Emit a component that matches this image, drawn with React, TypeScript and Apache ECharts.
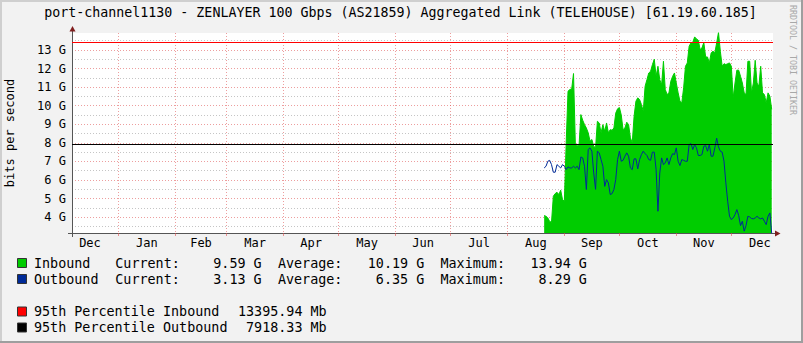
import React, { useEffect, useRef } from "react";
import * as echarts from "echarts";

const TITLE =
  "port-channel1130 - ZENLAYER 100 Gbps (AS21859) Aggregated Link (TELEHOUSE) [61.19.60.185]";
const Y_AXIS_NAME = "bits per second";
const WATERMARK = "RRDTOOL / TOBI OETIKER";

// daily samples, first one on this date (UTC)
const firstSampleDate = "2019-08-21";

// Inbound traffic, Gbit/s
const inbound = [
  4.09, 4.05, 3.96, 3.77, 3.73, 5.13, 5.27, 5.34, 5.22, 5.45, 4.95, 4.86,
  7.99, 10.78, 10.87, 10.9, 11.73, 7.9, 7.85, 7.85, 9.52, 9.22, 8.98, 8.8,
  8.54, 8.09, 8.18, 7.82, 7.73, 9.16, 9.07, 8.54, 8.98, 8.62, 9.07, 8.54,
  8.71, 8.68, 8.8, 9.6, 9.83, 9.9, 9.5, 8.71, 8.8, 9.11, 8.98, 8.27,
  8.0, 9.43, 10.24, 10.42, 10.33, 10.06, 9.7, 11.04, 11.4, 11.76, 11.85, 12.21,
  12.5, 11.58, 12.12, 11.4, 11.13, 12.39, 10.87, 10.6, 10.69, 11.31, 11.58, 11.76,
  11.22, 10.69, 10.24, 10.15, 10.96, 12.12, 12.3, 13.2, 13.38, 13.41, 13.7, 13.59,
  13.52, 13.02, 13.11, 13.4, 12.62, 12.62, 12.3, 12.84, 12.93, 12.84, 13.38, 13.94,
  12.93, 12.12, 12.26, 12.21, 12.26, 12.3, 12.12, 10.42, 11.22, 11.91, 11.91, 11.58,
  11.22, 10.69, 10.6, 12.39, 12.39, 10.69, 11.22, 12.44, 11.22, 11.04, 12.12, 10.69,
  10.6, 10.15, 10.69, 10.51, 9.8,
];

// Outbound traffic, Gbit/s
const outbound = [
  6.65, 6.74, 7.01, 7.06, 6.83, 6.42, 6.42, 6.83, 6.74, 6.65, 6.83, 6.74,
  6.56, 6.71, 6.65, 6.65, 6.74, 6.65, 6.74, 6.56, 7.24, 7.19, 6.74, 5.49,
  7.64, 7.73, 7.55, 6.38, 5.5, 7.55, 7.46, 7.1, 6.74, 5.66, 6.02, 5.84,
  5.22, 5.27, 5.49, 6.02, 7.1, 7.55, 7.01, 7.06, 7.28, 7.46, 7.28, 6.65,
  6.56, 7.14, 7.14, 6.6, 7.1, 7.37, 7.55, 7.42, 7.32, 7.1, 7.06, 7.5,
  7.5, 6.56, 4.32, 6.38, 7.19, 6.83, 6.92, 7.19, 6.83, 7.19, 7.42, 7.37,
  7.73, 7.01, 6.78, 7.1, 7.06, 7.01, 7.01, 7.91, 7.96, 7.64, 7.91, 7.73,
  7.32, 7.32, 7.37, 7.82, 7.85, 7.55, 7.91, 7.28, 7.28, 7.73, 8.25, 7.78,
  7.55, 7.5, 7.01, 5.85, 4.86, 4.05, 3.87, 3.96, 4.14, 4.41, 4.09, 3.55,
  3.78, 3.25, 3.55, 4.05, 4.01, 3.93, 3.91, 3.96, 4.05, 3.96, 3.91, 3.96,
  3.78, 3.6, 4.05, 4.23, 3.13,
];

// 95th percentiles, Gbit/s
const p95Inbound = 13.39594;
const p95Outbound = 7.91833;

// time axis
const axisStart = "2018-12-06T16:48:00Z";
const axisEnd = "2019-12-23T16:48:00Z";
const monthStarts = [
  "2018-12-01", "2019-01-01", "2019-02-01", "2019-03-01", "2019-04-01",
  "2019-05-01", "2019-06-01", "2019-07-01", "2019-08-01", "2019-09-01",
  "2019-10-01", "2019-11-01", "2019-12-01", "2020-01-01",
];
const monthNames = [
  "Dec", "Jan", "Feb", "Mar", "Apr", "May", "Jun", "Jul", "Aug", "Sep", "Oct", "Nov", "Dec",
];

// value axis
const yMin = 3.15;
const yMax = 13.91;
const yLabelValues = [4, 5, 6, 7, 8, 9, 10, 11, 12, 13];
const yGridValues = [
  3.5, 4, 4.5, 5, 5.5, 6, 6.5, 7, 7.5, 8, 8.5, 9, 9.5, 10, 10.5, 11, 11.5,
  12, 12.5, 13, 13.5,
];

// legend
const legendSeriesNames = ["Inbound", "Outbound"];
const legendCurrent = ["9.59 G", "3.13 G"];
const legendAverage = ["10.19 G", "6.35 G"];
const legendMaximum = ["13.94 G", "8.29 G"];
const percentileNames = ["95th Percentile Inbound", "95th Percentile Outbound"];
const percentileValues = ["13395.94 Mb", "7918.33 Mb"];

const GREEN = "#00CC00";
const BLUE = "#002A97";
const FONT = "DejaVu Sans Mono";

export default function App() {
  const ref = useRef<HTMLDivElement>(null);

  useEffect(() => {
    if (!ref.current) return;
    const chart = echarts.init(ref.current, undefined, { renderer: "svg" });

    const DAY = 86400000;
    const t0 = Date.parse(firstSampleDate + "T00:00:00Z");
    const inData = inbound.map((v, i) => [t0 + i * DAY, v]);
    const outData = outbound.map((v, i) => [t0 + i * DAY, v]);

    const monthTimes = monthStarts.map((d) => Date.parse(d + "T00:00:00Z"));
    const monthMids = monthNames.map((_, i) => (monthTimes[i] + monthTimes[i + 1]) / 2);
    const xMin = Date.parse(axisStart);
    const xMax = Date.parse(axisEnd);
    const tickTimes = monthTimes.filter((t) => t > xMin && t < xMax);
    const labelFor = (v: number) => {
      let best = 0;
      let bd = Infinity;
      monthMids.forEach((m, i) => {
        const d = Math.abs(m - v);
        if (d < bd) {
          bd = d;
          best = i;
        }
      });
      return monthNames[best];
    };

    const cw = 8.13; // monospace cell width
    const lx = 34;
    const col = (c: number) => lx + c * cw;
    const txt = (text: string, x: number, y: number, extra: any = {}) => ({
      type: "text",
      x,
      y,
      z: 100,
      silent: true,
      style: {
        text,
        fill: "#000",
        fontFamily: FONT,
        fontSize: 13.4,
        align: "left",
        verticalAlign: "middle",
        textAlign: "left",
        textVerticalAlign: "middle",
        ...extra,
      },
    });
    const box = (color: string, cy: number) => ({
      type: "rect",
      z: 100,
      silent: true,
      shape: { x: 17.5, y: cy - 4.5, width: 9, height: 9 },
      style: { fill: color, stroke: "#333", lineWidth: 1 },
    });

    const rowY = [263, 279];
    const pRowY = [311.5, 327.5];
    const legendGraphics: any[] = [];
    legendSeriesNames.forEach((n, i) => {
      legendGraphics.push(box(i === 0 ? GREEN : BLUE, rowY[i]));
      legendGraphics.push(txt(n, col(0), rowY[i]));
      legendGraphics.push(txt("Current:", col(10), rowY[i]));
      legendGraphics.push(txt(legendCurrent[i], col(28), rowY[i], { align: "right", textAlign: "right" }));
      legendGraphics.push(txt("Average:", col(30), rowY[i]));
      legendGraphics.push(txt(legendAverage[i], col(48), rowY[i], { align: "right", textAlign: "right" }));
      legendGraphics.push(txt("Maximum:", col(50), rowY[i]));
      legendGraphics.push(txt(legendMaximum[i], col(68), rowY[i], { align: "right", textAlign: "right" }));
    });
    percentileNames.forEach((n, i) => {
      legendGraphics.push(box(i === 0 ? "#FF0000" : "#000000", pRowY[i]));
      legendGraphics.push(txt(n, col(0), pRowY[i]));
      legendGraphics.push(txt(percentileValues[i], col(36), pRowY[i], { align: "right", textAlign: "right" }));
    });

    const option: any = {
      animation: false,
      backgroundColor: "#F2F2F2",
      textStyle: { fontFamily: FONT },
      grid: {
        left: 72,
        right: 30,
        top: 33,
        bottom: 110,
        show: true,
        backgroundColor: "#FFFFFF",
        borderWidth: 0,
        containLabel: false,
      },
      xAxis: {
        type: "value",
        min: xMin,
        max: xMax,
        axisLine: { show: true, onZero: false, lineStyle: { color: "#555", width: 1 } },
        axisTick: {
          show: true,
          customValues: tickTimes,
          length: 3,
          lineStyle: { color: "rgba(222,79,79,0.6)" },
        },
        axisLabel: {
          customValues: monthMids,
          formatter: (v: number) => labelFor(v),
          fontFamily: FONT,
          fontSize: 12,
          color: "#000",
          margin: 4,
        },
        splitLine: {
          show: true,
          lineStyle: { color: "rgba(222,79,79,0.55)", type: [1, 2], width: 1 },
        },
      },
      yAxis: {
        type: "value",
        min: yMin,
        max: yMax,
        axisLine: { show: true, onZero: false, lineStyle: { color: "#555", width: 1 } },
        axisTick: { show: false, customValues: yGridValues },
        axisLabel: {
          customValues: yLabelValues,
          formatter: (v: number) => `${Math.round(v)} G`,
          fontFamily: FONT,
          fontSize: 12,
          color: "#000",
          margin: 6,
        },
        splitLine: {
          show: true,
          lineStyle: {
            color: ["rgba(150,150,150,0.55)", "rgba(222,79,79,0.55)"],
            type: [1, 2],
            width: 1,
          },
        },
      },
      series: [
        {
          name: "Inbound",
          type: "line",
          data: inData,
          showSymbol: false,
          symbol: "none",
          clip: true,
          z: 2,
          lineStyle: { color: GREEN, width: 1 },
          itemStyle: { color: GREEN },
          areaStyle: { color: GREEN, opacity: 1, origin: "start" },
        },
        {
          name: "Outbound",
          type: "line",
          data: outData,
          showSymbol: false,
          symbol: "none",
          clip: true,
          z: 3,
          lineStyle: { color: BLUE, width: 1 },
          itemStyle: { color: BLUE },
          markLine: {
            silent: true,
            symbol: ["none", "none"],
            label: { show: false },
            z: 4,
            data: [
              { yAxis: p95Inbound, lineStyle: { color: "#FF0000", width: 1, type: "solid" } },
              { yAxis: p95Outbound, lineStyle: { color: "#000000", width: 1, type: "solid" } },
            ],
          },
        },
      ],
      graphic: [
        // frame
        { type: "rect", z: 90, silent: true, shape: { x: 0, y: 0, width: 803, height: 2 }, style: { fill: "#CFCFCF" } },
        { type: "rect", z: 90, silent: true, shape: { x: 0, y: 0, width: 2, height: 343 }, style: { fill: "#CFCFCF" } },
        { type: "rect", z: 90, silent: true, shape: { x: 801, y: 0, width: 2, height: 343 }, style: { fill: "#9E9E9E" } },
        { type: "rect", z: 90, silent: true, shape: { x: 0, y: 341, width: 803, height: 2 }, style: { fill: "#9E9E9E" } },
        // axis extensions and arrows
        { type: "line", z: 90, silent: true, shape: { x1: 68, y1: 233.5, x2: 72, y2: 233.5 }, style: { stroke: "#555", lineWidth: 1 } },
        { type: "line", z: 90, silent: true, shape: { x1: 773, y1: 233.5, x2: 776, y2: 233.5 }, style: { stroke: "#555", lineWidth: 1 } },
        { type: "line", z: 90, silent: true, shape: { x1: 72.5, y1: 233, x2: 72.5, y2: 237 }, style: { stroke: "#555", lineWidth: 1 } },
        { type: "line", z: 90, silent: true, shape: { x1: 72.5, y1: 30, x2: 72.5, y2: 33 }, style: { stroke: "#555", lineWidth: 1 } },
        { type: "polygon", z: 91, silent: true, shape: { points: [[72.5, 26], [69.5, 31.5], [75.5, 31.5]] }, style: { fill: "#801F1F" } },
        { type: "polygon", z: 91, silent: true, shape: { points: [[780.5, 233.5], [775, 230.5], [775, 236.5]] }, style: { fill: "#801F1F" } },
        // title
        txt(TITLE, 400.5, 12.5, { align: "center", textAlign: "center", fontSize: 13.3 }),
        // y axis name
        {
          type: "text",
          x: 10,
          y: 133,
          rotation: Math.PI / 2,
          z: 100,
          silent: true,
          style: {
            text: Y_AXIS_NAME,
            fill: "#000",
            fontFamily: FONT,
            fontSize: 12,
            align: "center",
            verticalAlign: "middle",
            textAlign: "center",
            textVerticalAlign: "middle",
          },
        },
        // watermark
        {
          type: "text",
          x: 793,
          y: 60,
          rotation: -Math.PI / 2,
          z: 100,
          silent: true,
          style: {
            text: WATERMARK,
            fill: "#A8A8A8",
            fontFamily: FONT,
            fontSize: 8.3,
            align: "center",
            verticalAlign: "middle",
            textAlign: "center",
            textVerticalAlign: "middle",
          },
        },
        ...legendGraphics,
      ],
    };

    chart.setOption(option);
    return () => chart.dispose();
  }, []);

  return (
    <div
      ref={ref}
      style={{ position: "fixed", left: 0, top: 0, width: 803, height: 343 }}
    />
  );
}
